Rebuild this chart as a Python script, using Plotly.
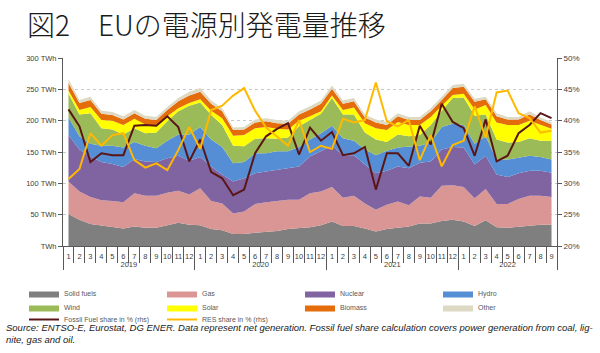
import plotly.graph_objects as go

# ---------------- data ----------------
years = ["2019"] * 12 + ["2020"] * 12 + ["2021"] * 12 + ["2022"] * 9
month_labels = ["1", "2", "3", "4", "5", "6", "7", "8", "9", "10", "11", "12"]
months = month_labels * 3 + month_labels[:9]

solid_fuels = [51, 42, 35, 33, 31, 28, 31, 29, 29, 33, 37, 34,
               33, 27, 25, 19, 19, 21, 22, 24, 27, 28, 30, 33,
               39, 32, 32, 28, 23, 27, 29, 31, 36, 36, 40, 42,
               39, 32, 41, 30, 29, 31, 32, 34, 34]
gas = [52, 45, 43, 40, 41, 42, 53, 51, 51, 52, 51, 48,
       59, 45, 43, 33, 36, 46, 48, 48, 47, 46, 54, 54,
       55, 45, 48, 40, 35, 39, 42, 34, 43, 41, 56, 55,
       55, 44, 50, 37, 38, 44, 48, 46, 44]
nuclear = [74, 67, 65, 61, 59, 56, 55, 55, 54, 55, 56, 54,
           50, 55, 46, 51, 53, 49, 49, 50, 50, 53, 59, 64,
           66, 68, 65, 62, 58, 54, 56, 59, 54, 58, 58, 61,
           63, 54, 53, 47, 43, 41, 40, 40, 39]
hydro = [28, 21, 20, 26, 29, 31, 27, 25, 22, 28, 34, 42,
         48, 43, 44, 29, 26, 32, 29, 29, 27, 31, 27, 29,
         32, 27, 23, 24, 29, 32, 30, 34, 27, 30, 36, 37,
         36, 33, 31, 24, 28, 25, 24, 22, 21]
wind = [38, 35, 49, 28, 26, 21, 22, 20, 25, 31, 37, 46,
        39, 39, 35, 28, 25, 23, 24, 20, 22, 33, 31, 31,
        44, 38, 42, 27, 25, 14, 21, 17, 17, 28, 26, 41,
        44, 45, 35, 32, 27, 25, 28, 26, 30]
solar = [5, 7, 10, 13, 14, 15, 15, 14, 11, 8, 5, 4,
         5, 7, 11, 16, 18, 17, 18, 16, 13, 9, 6, 4,
         4, 7, 11, 15, 18, 19, 20, 18, 16, 13, 8, 5,
         6, 10, 15, 27, 28, 27, 28, 25, 19]
biomass = [12, 11, 11, 10, 9, 9, 9, 9, 9, 10, 11, 12,
           12, 11, 11, 9, 9, 9, 9, 9, 9, 10, 11, 12,
           11, 10, 10, 9, 9, 8, 9, 8, 8, 9, 9, 11,
           11, 12, 9, 10, 9, 9, 10, 8, 7]
other = [6, 5, 5, 5, 5, 5, 5, 5, 5, 5, 5, 6,
         6, 5, 5, 4, 4, 5, 5, 5, 5, 5, 5, 5,
         5, 5, 5, 5, 5, 5, 5, 5, 5, 5, 5, 5,
         5, 5, 4, 5, 4, 4, 5, 4, 4]

fossil_share = [41.8, 39.1, 33.4, 34.8, 34.5, 34.5, 39.2, 39.3, 39.2, 40.7, 39.0, 33.5,
                37.0, 31.8, 30.8, 28.1, 29.0, 34.8, 37.5, 38.7, 39.6, 34.6, 38.9, 36.8,
                38.2, 34.5, 34.8, 35.8, 29.0, 34.8, 34.8, 32.8, 39.2, 36.2, 42.7, 39.8,
                38.8, 34.4, 40.2, 33.5, 34.4, 38.0, 39.3, 41.2, 40.4]
res_share = [30.7, 32.3, 38.0, 36.0, 37.7, 38.0, 33.7, 32.5, 33.2, 32.1, 35.3, 39.0,
             35.5, 41.7, 42.4, 44.0, 45.2, 41.6, 38.9, 37.4, 36.0, 40.1, 35.0, 36.0,
             35.5, 40.3, 39.7, 40.1, 46.1, 39.9, 39.1, 40.1, 33.7, 37.7, 32.7, 36.1,
             36.8, 42.3, 37.3, 44.5, 44.8, 41.2, 40.4, 38.1, 38.4]

left_tickvals = [0, 50, 100, 150, 200, 250, 300]
left_ticktext = ["TWh", "50 TWh", "100 TWh", "150 TWh", "200 TWh", "250 TWh", "300 TWh"]

area_series = [
    ("Solid fuels", solid_fuels, "#7F7F7F", "legend"),
    ("Gas", gas, "#D99694", "legend"),
    ("Nuclear", nuclear, "#8064A2", "legend"),
    ("Hydro", hydro, "#558ED5", "legend"),
    ("Wind", wind, "#9BBB59", "legend2"),
    ("Solar", solar, "#FFFF00", "legend2"),
    ("Biomass", biomass, "#E46C0A", "legend2"),
    ("Other", other, "#DDD9C3", "legend2"),
]

# plot area in pixels (for placing legend / note in paper coordinates)
PL, PR, PT, PB = 63, 557, 58, 246
PW, PH = PR - PL, PB - PT


def px_x(px):
    return (px - PL) / PW


def px_y(py):
    return (PB - py) / PH


x = [years, months]
fig = go.Figure()
for name, vals, color, leg in area_series:
    fig.add_trace(go.Scatter(
        x=x, y=vals, name=name, mode="lines", stackgroup="gen",
        line=dict(width=0, color=color), fillcolor=color, legend=leg,
        hoverinfo="skip"))

fig.add_trace(go.Scatter(x=x, y=fossil_share, name="Fossil Fuel share in % (rhs)",
                         mode="lines", yaxis="y2", line=dict(color="#5A1616", width=2),
                         legend="legend3", hoverinfo="skip"))
fig.add_trace(go.Scatter(x=x, y=res_share, name="RES share in % (rhs)",
                         mode="lines", yaxis="y2", line=dict(color="#FFB900", width=2),
                         legend="legend3", hoverinfo="skip"))

tick_font = dict(family="Liberation Sans, Arial, sans-serif", size=7.5, color="#404040")
leg_common = dict(orientation="h", xanchor="left", yanchor="top",
                  entrywidth=93, entrywidthmode="pixels",
                  font=dict(family="Liberation Sans, Arial, sans-serif", size=7, color="#595959"),
                  bgcolor="rgba(0,0,0,0)", traceorder="normal", x=px_x(24))

fig.update_layout(
    width=600, height=353,
    margin=dict(l=PL, r=600 - PR, t=PT, b=353 - PB, autoexpand=False),
    paper_bgcolor="white", plot_bgcolor="white",
    showlegend=True,
    title=dict(text="図2　EUの電源別発電量推移", x=27 / 600, xanchor="left",
               y=1 - 26 / 353, yanchor="middle", xref="container", yref="container",
               font=dict(family="Noto Sans CJK JP", size=28, color="#1a1a1a", weight=300)),
    xaxis=dict(type="multicategory", showline=True, linecolor="#595959", linewidth=1,
               ticks="outside", ticklen=16, tickcolor="#595959", tickson="boundaries",
               tickangle=0, ticklabelstandoff=3,
               showdividers=True, dividercolor="#595959", dividerwidth=1,
               tickfont=tick_font, showgrid=False, range=[-0.5, 44.5]),
    yaxis=dict(range=[0, 300], tickvals=left_tickvals, ticktext=left_ticktext,
               showline=True, linecolor="#595959", ticks="outside", ticklen=4,
               tickcolor="#595959", tickfont=tick_font, showgrid=True,
               gridcolor="#C8C8C8", griddash="dot", gridwidth=1, zeroline=False),
    yaxis2=dict(range=[20, 50], dtick=5, ticksuffix="%", overlaying="y", side="right",
                showline=True, linecolor="#595959", ticks="outside", ticklen=4,
                tickcolor="#595959", tickfont=dict(family="Liberation Sans, Arial, sans-serif",
                                                   size=8, color="#404040"),
                showgrid=False, zeroline=False),
    legend=dict(leg_common, y=px_y(279)),
    legend2=dict(leg_common, y=px_y(293)),
    legend3=dict(leg_common, y=px_y(305)),
)

fig.add_annotation(
    xref="paper", yref="paper", x=px_x(4), y=px_y(320),
    xanchor="left", yanchor="top", align="left", showarrow=False,
    text="<i>Source: ENTSO-E, Eurostat, DG ENER. Data represent net generation. Fossil fuel share calculation covers power generation from coal, lig-<br>nite, gas and oil.</i>",
    font=dict(family="Liberation Sans, Arial, sans-serif", size=9.5, color="#1a1a1a"))

fig.write_html("out.html")
